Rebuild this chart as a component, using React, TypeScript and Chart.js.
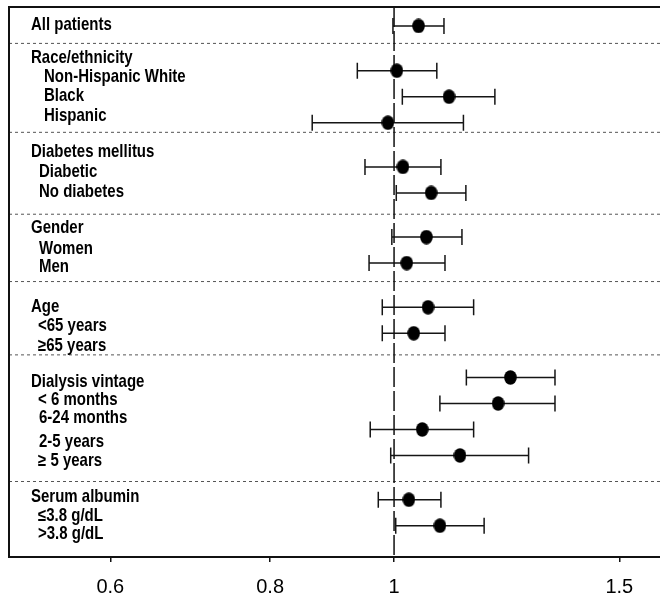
import React, { useEffect, useRef } from "react";
import { Chart, registerables } from "chart.js";

Chart.register(...registerables);

// ---------------- data ----------------
const SUBGROUPS = [
  "All patients",
  "Non-Hispanic White",
  "Black",
  "Hispanic",
  "Diabetic",
  "No diabetes",
  "Women",
  "Men",
  "<65 years",
  "≥65 years",
  "< 6 months",
  "6-24 months",
  "2-5 years",
  "≥ 5 years",
  "≤3.8 g/dL",
  ">3.8 g/dL",
];
const HAZARD_RATIO = [1.045, 1.005, 1.104, 0.989, 1.016, 1.069, 1.06, 1.023, 1.063, 1.036, 1.233, 1.206, 1.052, 1.126, 1.027, 1.086];
const CI_LOW = [0.998, 0.936, 1.015, 0.863, 0.949, 1.004, 0.996, 0.956, 0.979, 0.979, 1.139, 1.086, 0.958, 0.994, 0.972, 1.003];
const CI_HIGH = [1.094, 1.08, 1.199, 1.133, 1.088, 1.138, 1.13, 1.096, 1.154, 1.096, 1.336, 1.336, 1.154, 1.274, 1.088, 1.176];

const ROW_LABELS = [
  "All patients",
  "Race/ethnicity",
  "Non-Hispanic White",
  "Black",
  "Hispanic",
  "Diabetes mellitus",
  "Diabetic",
  "No diabetes",
  "Gender",
  "Women",
  "Men",
  "Age",
  "<65 years",
  "≥65 years",
  "Dialysis vintage",
  "< 6 months",
  "6-24 months",
  "2-5 years",
  "≥ 5 years",
  "Serum albumin",
  "≤3.8 g/dL",
  ">3.8 g/dL",
];
const X_TICKS = [0.6, 0.8, 1, 1.5];
const REFERENCE_VALUE = 1;

// ---------------- layout (row slots on the vertical axis) ----------------
const X_MIN = 0.5;
const X_MAX = 1.614;
const Y_MAX = 550 / 26;
const ROW_POS = [0.73, 2.45, 3.45, 4.45, 6.15, 7.15, 8.85, 9.85, 11.55, 12.55, 14.25, 15.25, 16.25, 17.25, 18.95, 19.95];
const SEPARATOR_POS = [1.4, 4.82, 7.97, 10.56, 13.38, 18.25];
const LABEL_POS = [0.885, 2.14, 2.87, 3.6, 4.37, 5.76, 6.53, 7.32, 8.7, 9.5, 10.2, 11.74, 12.46, 13.22, 14.6, 15.31, 16.01, 16.93, 17.64, 19.05, 19.76, 20.46];
const LABEL_INDENT = [22, 22, 35, 35, 35, 22, 30, 30, 22, 30, 30, 22, 29, 29, 22, 29, 30, 30, 29, 22, 29, 29];

const FONT_FAMILY = '"Liberation Sans", Arial, Helvetica, sans-serif';

function makeDot(): HTMLCanvasElement {
  const c = document.createElement("canvas");
  c.width = 13;
  c.height = 15;
  const g = c.getContext("2d")!;
  g.fillStyle = "#000";
  g.beginPath();
  g.ellipse(6.5, 7.5, 6.3, 7.3, 0, 0, Math.PI * 2);
  g.fill();
  return c;
}

const errorBarsPlugin = {
  id: "errorBars",
  beforeDatasetsDraw(chart: any) {
    const { ctx } = chart;
    const xs = chart.scales.x;
    const ys = chart.scales.y;
    ctx.save();
    ctx.strokeStyle = "#151515";
    ctx.lineWidth = 1.5;
    for (let i = 0; i < HAZARD_RATIO.length; i++) {
      const py = ys.getPixelForValue(ROW_POS[i]);
      const x1 = xs.getPixelForValue(CI_LOW[i]);
      const x2 = xs.getPixelForValue(CI_HIGH[i]);
      ctx.beginPath();
      ctx.moveTo(x1, py);
      ctx.lineTo(x2, py);
      ctx.moveTo(x1, py - 8);
      ctx.lineTo(x1, py + 8);
      ctx.moveTo(x2, py - 8);
      ctx.lineTo(x2, py + 8);
      ctx.stroke();
    }
    ctx.restore();
  },
};

const framePlugin = {
  id: "frameAndLabels",
  afterDraw(chart: any) {
    const { ctx, chartArea } = chart;
    const ys = chart.scales.y;
    ctx.save();
    ctx.strokeStyle = "#111";
    ctx.lineWidth = 2;
    ctx.beginPath();
    ctx.moveTo(chartArea.left, chartArea.bottom);
    ctx.lineTo(chartArea.left, chartArea.top);
    ctx.lineTo(chartArea.right, chartArea.top);
    ctx.stroke();

    ctx.fillStyle = "#000";
    ctx.font = `bold 15px ${FONT_FAMILY}`;
    ctx.textBaseline = "alphabetic";
    ctx.textAlign = "left";
    for (let i = 0; i < ROW_LABELS.length; i++) {
      const py = ys.getPixelForValue(LABEL_POS[i]);
      ctx.save();
      ctx.translate(chartArea.left + LABEL_INDENT[i], py);
      ctx.scale(1, 1.18);
      ctx.fillText(ROW_LABELS[i], 0, 0);
      ctx.restore();
    }
    ctx.restore();
  },
};

export default function App() {
  const ref = useRef<HTMLCanvasElement | null>(null);

  useEffect(() => {
    if (!ref.current) return;
    const dot = makeDot();
    const datasets: any[] = [];

    datasets.push({
      label: "Hazard ratio",
      data: HAZARD_RATIO.map((v, i) => ({ x: v, y: ROW_POS[i] })),
      pointStyle: dot,
      pointRadius: 7,
      showLine: false,
      order: 0,
    });
    SEPARATOR_POS.forEach((s) => {
      datasets.push({
        label: "sep",
        data: [
          { x: X_MIN, y: s },
          { x: X_MAX, y: s },
        ],
        showLine: true,
        borderColor: "#555",
        borderWidth: 1,
        borderDash: [3, 3],
        pointRadius: 0,
        order: 2,
      });
    });
    datasets.push({
      label: "ref",
      data: [
        { x: REFERENCE_VALUE, y: 0 },
        { x: REFERENCE_VALUE, y: Y_MAX },
      ],
      showLine: true,
      borderColor: "#111",
      borderWidth: 1.5,
      borderDash: [20, 4],
      pointRadius: 0,
      order: 1,
    });

    const chart = new Chart(ref.current, {
      type: "scatter",
      data: { labels: SUBGROUPS, datasets },
      options: {
        animation: false,
        responsive: false,
        events: [],
        layout: { autoPadding: false, padding: { left: 9, right: 0, top: 7, bottom: 0 } },
        plugins: { legend: { display: false }, tooltip: { enabled: false } },
        scales: {
          x: {
            type: "logarithmic",
            min: X_MIN,
            max: X_MAX,
            afterBuildTicks: (axis: any) => {
              axis.ticks = X_TICKS.map((v) => ({ value: v }));
            },
            afterFit: (axis: any) => {
              axis.height = 41;
              axis.paddingLeft = 0;
              axis.paddingRight = 0;
              axis.paddingTop = 0;
              axis.paddingBottom = 0;
            },
            ticks: {
              autoSkip: false,
              maxRotation: 0,
              padding: 15,
              color: "#000",
              font: { family: FONT_FAMILY, size: 20, lineHeight: 1 },
              callback: (v: any) => String(v),
            },
            grid: {
              display: true,
              drawOnChartArea: false,
              drawTicks: true,
              tickLength: 5,
              color: "#111",
              lineWidth: 1.5,
            },
            border: { display: true, color: "#111", width: 2 },
          },
          y: {
            type: "linear",
            min: 0,
            max: Y_MAX,
            reverse: true,
            display: false,
          },
        },
      },
      plugins: [errorBarsPlugin, framePlugin],
    });
    return () => chart.destroy();
  }, []);

  return (
    <div style={{ position: "fixed", left: 0, top: 0, width: 660, height: 598, background: "#fff" }}>
      <canvas ref={ref} width={660} height={598} style={{ display: "block" }} />
    </div>
  );
}
